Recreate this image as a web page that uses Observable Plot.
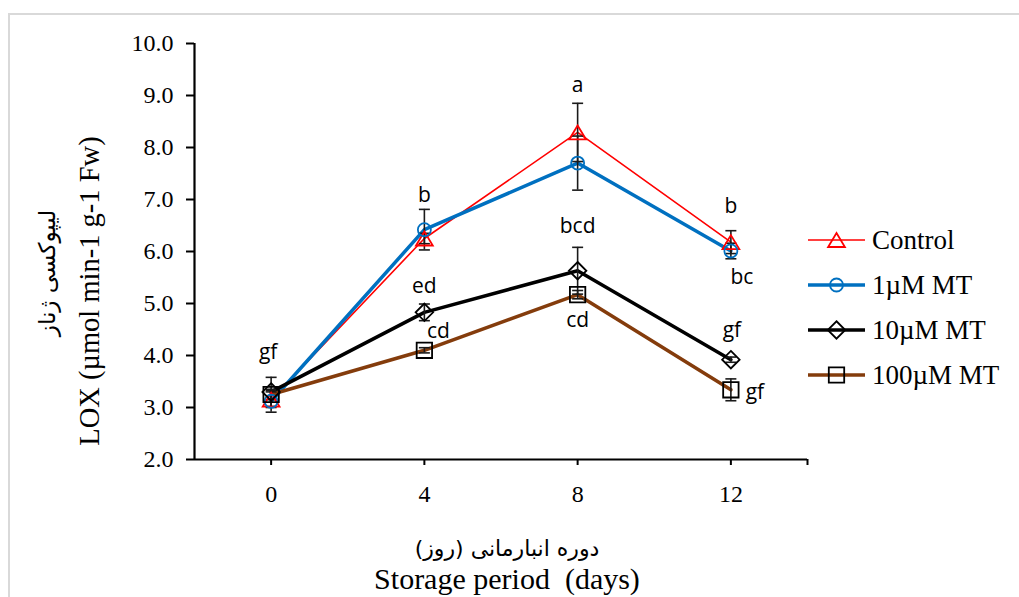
<!DOCTYPE html>
<html>
<head>
<meta charset="utf-8">
<script src="https://cdn.jsdelivr.net/npm/d3@7"></script>
<script src="https://cdn.jsdelivr.net/npm/@observablehq/plot@0.6"></script>
<style>
  html, body { margin: 0; padding: 0; background: #fff; }
  #chart { width: 1019px; height: 597px; overflow: hidden; }
</style>
</head>
<body>
<div id="chart"></div>
<script>
// ---------- data ----------
const days = [0, 4, 8, 12];
const seriesNames = ["Control", "1µM MT", "10µM MT", "100µM MT"];
const controlValues = [3.15, 6.25, 8.29, 6.18];
const mt1Values     = [3.12, 6.42, 7.70, 6.01];
const mt10Values    = [3.30, 4.83, 5.63, 3.92];
const mt100Values   = [3.25, 4.10, 5.17, 3.34];
const controlErr = [0.15, 0.10, 0.56, 0.22];
const mt1Err     = [0.21, 0.39, 0.52, 0.15];
const mt10Err    = [0.28, 0.16, 0.45, 0.05];
const mt100Err   = [0.10, 0.05, 0.08, 0.21];
const yTicks = [2, 3, 4, 5, 6, 7, 8, 9, 10];
const xTicks = [0, 4, 8, 12];
// significance letters: text, series index, day
const letterText   = ["gf", "b", "ed", "cd", "a", "bcd", "cd", "b", "bc", "gf", "gf"];
const letterSeries = [2, 0, 2, 3, 0, 2, 3, 0, 1, 2, 3];
const letterDay    = [0, 4, 4, 4, 8, 8, 8, 12, 12, 12, 12];

// ---------- styling / layout ----------
const letterOffsets = [[-3, -40], [0, -43], [0, -26], [14, -19], [0, -47], [0, -44], [0, 26], [0, -36], [11, 26], [1, -29], [24, 2]];
const colors = ["#ff0000", "#0070c0", "#000000", "#843c0c"];
const markerStroke = ["#ff0000", "#0070c0", "#000000", "#000000"];
const lineWidths = [1.6, 3.5, 3.5, 3.5];
const serif = "'Liberation Serif', 'Times New Roman', serif";
const arabic = "'DejaVu Sans', sans-serif";

const valuesBySeries = [controlValues, mt1Values, mt10Values, mt100Values];
const errBySeries = [controlErr, mt1Err, mt10Err, mt100Err];
const rows = seriesNames.flatMap((s, i) => days.map((d, j) => ({
  series: s, si: i, day: d, value: valuesBySeries[i][j], err: errBySeries[i][j]
})));

function polySym(pts) {
  return {draw(ctx, size) {
    const r = Math.sqrt(size / Math.PI);
    ctx.moveTo(pts[0][0] * r, pts[0][1] * r);
    for (let k = 1; k < pts.length; ++k) ctx.lineTo(pts[k][0] * r, pts[k][1] * r);
    ctx.closePath();
  }};
}
const circleSym = {draw(ctx, size) { const r = Math.sqrt(size / Math.PI) * 0.93; ctx.moveTo(r, 0); ctx.arc(0, 0, r, 0, 2 * Math.PI); }};
const symbols = [
  polySym([[0, -1], [1.2, 1], [-1.2, 1]]),
  circleSym,
  polySym([[0, -1.25], [1.25, 0], [0, 1.25], [-1.25, 0]]),
  polySym([[-1.1, -1.1], [1.1, -1.1], [1.1, 1.1], [-1.1, 1.1]])
];
const capSym = {draw(ctx) { ctx.moveTo(-5.5, 0); ctx.lineTo(5.5, 0); }};

const marks = [
  Plot.axisY({ticks: yTicks, tickFormat: d3.format(".1f"), tickSize: 8, tickPadding: 13, strokeWidth: 2, fontSize: 24, label: null}),
  Plot.axisX({ticks: [...xTicks, 14], tickFormat: d => xTicks.includes(d) ? String(d) : "", tickSize: 6, tickPadding: 19, strokeWidth: 2, fontSize: 24, label: null}),
  Plot.ruleX([-2], {strokeWidth: 2.2}),
  Plot.ruleY([2], {strokeWidth: 2.2})
];
seriesNames.forEach((s, i) => {
  marks.push(Plot.line(rows.filter(r => r.si === i), {x: "day", y: "value", stroke: colors[i], strokeWidth: lineWidths[i]}));
});
marks.push(
  Plot.ruleX(rows, {x: "day", y1: d => d.value - d.err, y2: d => d.value + d.err, stroke: "#1a1a1a", strokeWidth: 1.6}),
  Plot.dot(rows, {x: "day", y: d => d.value - d.err, symbol: capSym, stroke: "#1a1a1a", strokeWidth: 1.6, r: 5}),
  Plot.dot(rows, {x: "day", y: d => d.value + d.err, symbol: capSym, stroke: "#1a1a1a", strokeWidth: 1.6, r: 5})
);
seriesNames.forEach((s, i) => {
  marks.push(Plot.dot(rows.filter(r => r.si === i), {x: "day", y: "value", symbol: symbols[i], r: 7, stroke: markerStroke[i], strokeWidth: 1.8, fill: "none"}));
});
letterText.forEach((t, k) => {
  const row = rows.find(r => r.si === letterSeries[k] && r.day === letterDay[k]);
  marks.push(Plot.text([{...row, label: t}], {x: "day", y: "value", text: "label", dx: letterOffsets[k][0], dy: letterOffsets[k][1], fontFamily: "'Open Sans', sans-serif", fontSize: 21, fill: "black"}));
});

const plot = Plot.plot({
  width: 1019, height: 597,
  marginLeft: 194, marginRight: 212, marginTop: 43, marginBottom: 138,
  x: {type: "linear", domain: [-2, 14]},
  y: {domain: [2, 10]},
  style: {fontFamily: serif, fontSize: "24px", color: "black", background: "white", overflow: "visible"},
  marks
});
document.getElementById("chart").appendChild(plot);

// ---------- frame, axis titles, legend ----------
const svg = d3.select(plot);
svg.insert("rect", ":first-child")
  .attr("x", 9).attr("y", 14).attr("width", 1100).attr("height", 700)
  .attr("fill", "none").attr("stroke", "#d9d9d9").attr("stroke-width", 2);

svg.append("text").attr("transform", "translate(47,273) rotate(-90)")
  .attr("text-anchor", "middle").attr("dominant-baseline", "central")
  .attr("direction", "rtl")
  .style("font-family", arabic).style("font-size", "23px").text("لیپوکسی ژناز");
svg.append("text").attr("transform", "translate(89,291) rotate(-90)")
  .attr("text-anchor", "middle").attr("dominant-baseline", "central")
  .style("font-family", serif).style("font-size", "28.5px").text("LOX (µmol min-1 g-1 Fw)");
svg.append("text").attr("x", 507).attr("y", 548)
  .attr("text-anchor", "middle").attr("dominant-baseline", "central")
  .attr("direction", "rtl")
  .style("font-family", arabic).style("font-size", "22px").text("دوره انبارمانی (روز)");
svg.append("text").attr("x", 507).attr("y", 589)
  .attr("text-anchor", "middle")
  .style("font-family", serif).style("font-size", "30px").text("Storage period  (days)");

const legendX = 808, legendY = 240, legendStep = 45;
seriesNames.forEach((s, i) => {
  const y = legendY + i * legendStep;
  const g = svg.append("g");
  g.append("line").attr("x1", legendX).attr("x2", legendX + 57).attr("y1", y).attr("y2", y)
    .attr("stroke", colors[i]).attr("stroke-width", lineWidths[i]);
  g.append("path").attr("transform", `translate(${legendX + 28.5},${y})`)
    .attr("d", d3.symbol(symbols[i], Math.PI * 49)())
    .attr("fill", "none").attr("stroke", markerStroke[i]).attr("stroke-width", 1.8);
  g.append("text").attr("x", legendX + 64).attr("y", y).attr("dy", "0.33em")
    .attr("text-anchor", "start")
    .style("font-family", serif).style("font-size", "27px").text(s);
});
</script>
</body>
</html>
